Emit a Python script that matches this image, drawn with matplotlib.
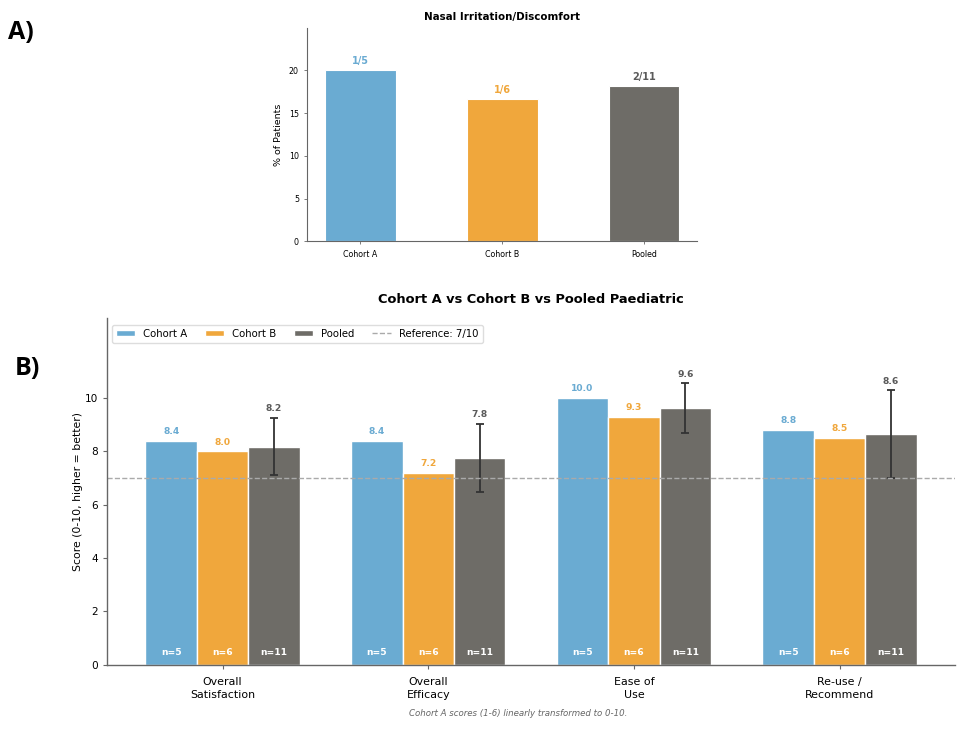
import matplotlib
matplotlib.use("Agg")
import matplotlib.pyplot as plt
import numpy as np

# ---- Panel A data ----
a_groups = ["Cohort A", "Cohort B", "Pooled"]
a_pct = [20.0, 16.67, 18.18]
a_labels = ["1/5", "1/6", "2/11"]

# ---- Panel B data ----
b_categories = ["Overall\nSatisfaction", "Overall\nEfficacy", "Ease of\nUse", "Re-use /\nRecommend"]
cohort_a = [8.4, 8.4, 10.0, 8.8]
cohort_b = [8.0, 7.2, 9.3, 8.5]
pooled = [8.18, 7.75, 9.62, 8.64]
pooled_err = [1.08, 1.28, 0.93, 1.64]
n_labels = ["n=5", "n=6", "n=11"]
series_names = ["Cohort A", "Cohort B", "Pooled"]
reference = 7

C_BLUE = "#6aabd2"
C_ORANGE = "#f0a73c"
C_GRAY = "#6e6c67"
colors = [C_BLUE, C_ORANGE, C_GRAY]
text_colors = [C_BLUE, C_ORANGE, "#5a5a5a"]
SPINE = "#666666"

fig = plt.figure(figsize=(9.63, 7.29), dpi=100)

# ---------- Panel A ----------
axA = fig.add_axes([0.319, 0.669, 0.405, 0.293])
xa = np.arange(len(a_groups))
axA.bar(xa, a_pct, width=0.5, color=colors, edgecolor="white", linewidth=0.8)
for i, (v, lab) in enumerate(zip(a_pct, a_labels)):
    axA.text(xa[i], v + 0.5, lab, ha="center", va="bottom", fontsize=7,
             fontweight="bold", color=text_colors[i])
axA.set_ylim(0, 25)
axA.set_yticks([0, 5, 10, 15, 20])
axA.set_xticks(xa)
axA.set_xticklabels(a_groups)
axA.tick_params(labelsize=5.7, length=2.5, width=0.6, color=SPINE)
axA.set_ylabel("% of Patients", fontsize=6.8)
axA.set_title("Nasal Irritation/Discomfort", fontsize=7.4, fontweight="bold", pad=5.5)
for s in ["top", "right"]:
    axA.spines[s].set_visible(False)
for s in ["left", "bottom"]:
    axA.spines[s].set_color(SPINE)
    axA.spines[s].set_linewidth(0.8)

# ---------- Panel B ----------
axB = fig.add_axes([0.111, 0.088, 0.881, 0.476])
x = np.arange(len(b_categories))
w = 0.25
series = [cohort_a, cohort_b, pooled]
handles = []
for k, (vals, name) in enumerate(zip(series, series_names)):
    pos = x + (k - 1) * w
    if k == 2:
        h = axB.bar(pos, vals, width=w, color=colors[k], edgecolor="white", linewidth=1,
                    label=name, yerr=pooled_err, capsize=3,
                    error_kw=dict(ecolor="#333333", elinewidth=1.3, capthick=1.3))
    else:
        h = axB.bar(pos, vals, width=w, color=colors[k], edgecolor="white", linewidth=1,
                    label=name)
    handles.append(h)
    for i, v in enumerate(vals):
        top = v + (pooled_err[i] if k == 2 else 0)
        axB.text(pos[i], top + 0.17, f"{v:.1f}", ha="center", va="bottom",
                 fontsize=6.6, fontweight="bold", color=text_colors[k])
        axB.text(pos[i], 0.3, n_labels[k], ha="center", va="bottom",
                 fontsize=6.6, fontweight="bold", color="white")

ref_line = axB.axhline(reference, color="#aaaaaa", linestyle="--", linewidth=1,
                       label=f"Reference: {reference}/10")
handles.append(ref_line)
axB.set_ylim(0, 13)
axB.set_yticks([0, 2, 4, 6, 8, 10])
axB.set_xticks(x)
axB.set_xticklabels(b_categories, fontsize=7.9, linespacing=1.35)
axB.tick_params(axis="y", labelsize=7.6)
axB.tick_params(axis="x", pad=6)
axB.tick_params(length=3, width=0.8, color=SPINE)
axB.set_ylabel("Score (0-10, higher = better)", fontsize=7.8, labelpad=1)
axB.set_title("Cohort A vs Cohort B vs Pooled Paediatric", fontsize=9.4,
              fontweight="bold", pad=11)
for s in ["top", "right"]:
    axB.spines[s].set_visible(False)
for s in ["left", "bottom"]:
    axB.spines[s].set_color(SPINE)
    axB.spines[s].set_linewidth(1)
axB.legend(handles=handles, labels=[hh.get_label() for hh in handles],
           loc="upper left", ncol=4, fontsize=7.3, frameon=True, framealpha=1,
           edgecolor="#dddddd", handlelength=1.9, handleheight=0.6,
           handletextpad=0.8, columnspacing=1.7,
           borderpad=0.4, bbox_to_anchor=(0.0, 0.995))

fig.text(0.538, 0.015, "Cohort A scores (1-6) linearly transformed to 0-10.",
         ha="center", va="bottom", fontsize=6.2, style="italic", color="#666666")

fig.text(0.008, 0.955, "A)", fontsize=18, fontweight="bold", va="center", ha="left",
         family=["Open Sans", "DejaVu Sans"])
fig.text(0.015, 0.495, "B)", fontsize=18, fontweight="bold", va="center", ha="left",
         family=["Open Sans", "DejaVu Sans"])

fig.savefig("out.png", dpi=100)
